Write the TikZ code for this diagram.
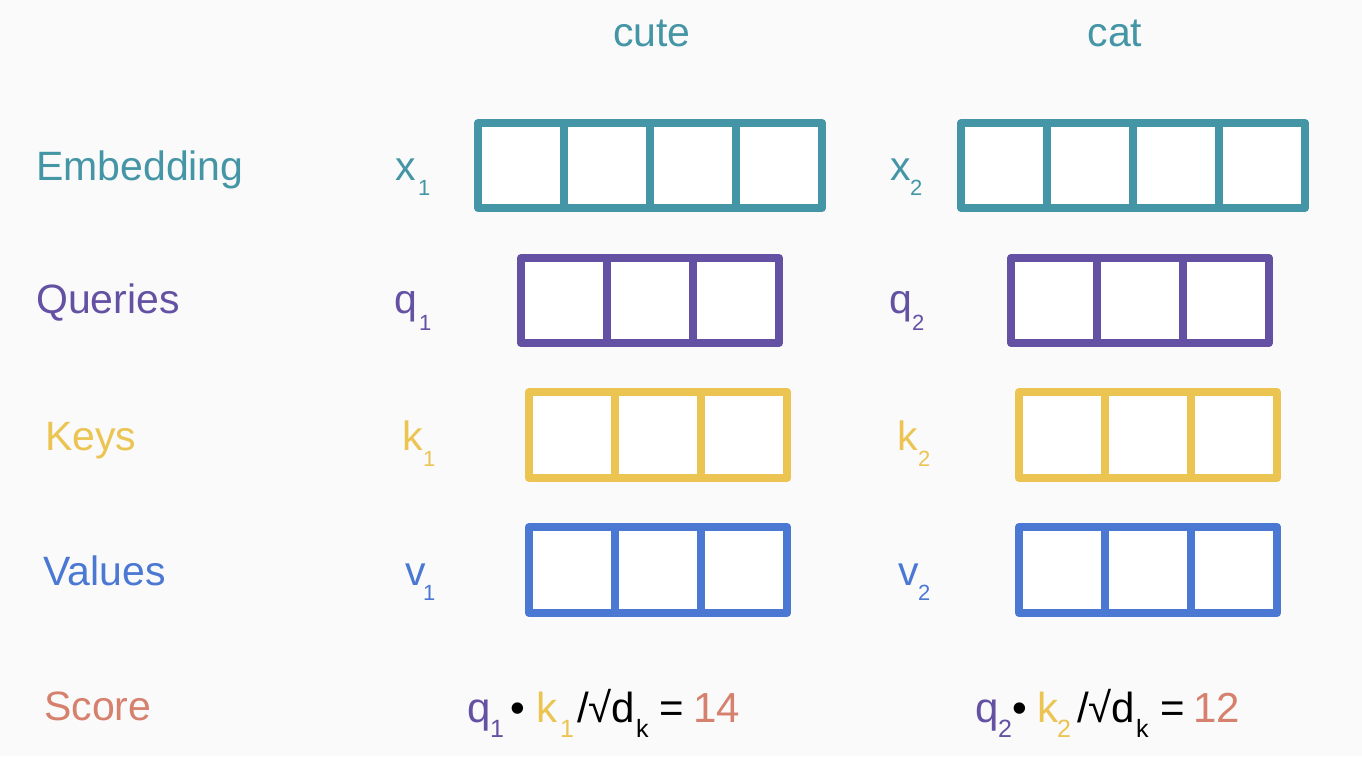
\documentclass[tikz,border=0pt]{standalone}
\usepackage{fontspec}
\setmainfont{Liberation Sans}
\definecolor{cteal}{HTML}{4496A6}
\definecolor{cpurple}{HTML}{6451A3}
\definecolor{cyellow}{HTML}{EBC452}
\definecolor{cblue}{HTML}{4A78D3}
\definecolor{csalmon}{HTML}{D6806E}
\definecolor{cbg}{HTML}{FAFAFA}
\begin{document}
\begin{tikzpicture}[x=1pt,y=-1pt,
  cell/.style={draw, line width=8pt, fill=white, minimum width=86pt, minimum height=85pt, inner sep=0pt, outer sep=0pt, line join=round},
  big/.style={anchor=base west, inner sep=0pt, font=\fontsize{41}{41}\selectfont},
  lsub/.style={anchor=base west, inner sep=0pt, font=\fontsize{22}{22}\selectfont},
  fbig/.style={anchor=base west, inner sep=0pt, font=\fontsize{42}{42}\selectfont},
  fsub/.style={anchor=base west, inner sep=0pt, font=\fontsize{25}{25}\selectfont}]
\fill[cbg] (0,0) rectangle (1362,756);
\useasboundingbox (0,0) rectangle (1362,756);

% column headings
\node[anchor=base, inner sep=0pt, font=\fontsize{41}{41}\selectfont, text=cteal] (cute) at (652,46) {cute};
\node[anchor=base, inner sep=0pt, font=\fontsize{41}{41}\selectfont, text=cteal] (cat) at (1115,46) {cat};

% row labels
\node[big, text=cteal] (lemb) at (36,180) {Embedding};
\node[big, text=cpurple] (lq) at (36,313) {Queries};
\node[big, text=cyellow] (lk) at (45,450) {Keys};
\node[big, text=cblue] (lv) at (43,585) {Values};
\node[big, text=csalmon] (ls) at (44,720) {Score};

% vectors for "cute"
\foreach \i/\x in {1/521,2/607,3/693,4/779}
  \node[cell, draw=cteal] (ea\i) at (\x,165.5) {};
\foreach \i/\x in {1/564,2/650,3/736}
  \node[cell, draw=cpurple] (qa\i) at (\x,300.5) {};
\foreach \i/\x in {1/572,2/658,3/744}
  \node[cell, draw=cyellow, minimum height=86pt] (ka\i) at (\x,435) {};
\foreach \i/\x in {1/572,2/658,3/744}
  \node[cell, draw=cblue, minimum height=86pt] (va\i) at (\x,570) {};

% vectors for "cat"
\foreach \i/\x in {1/1004,2/1090,3/1176,4/1262}
  \node[cell, draw=cteal] (eb\i) at (\x,165.5) {};
\foreach \i/\x in {1/1054,2/1140,3/1226}
  \node[cell, draw=cpurple] (qb\i) at (\x,300.5) {};
\foreach \i/\x in {1/1062,2/1148,3/1234}
  \node[cell, draw=cyellow, minimum height=86pt] (kb\i) at (\x,435) {};
\foreach \i/\x in {1/1062,2/1148,3/1234}
  \node[cell, draw=cblue, minimum height=86pt] (vb\i) at (\x,570) {};

% vector labels, word 1
\node[big, text=cteal] (x1) at (395,180) {x};
\node[lsub, text=cteal] (x1s) at (418,195) {1};
\node[big, text=cpurple] (q1) at (394,313) {q};
\node[lsub, text=cpurple] (q1s) at (419,330) {1};
\node[big, text=cyellow] (k1) at (402,450) {k};
\node[lsub, text=cyellow] (k1s) at (423,466) {1};
\node[big, text=cblue] (v1) at (405,585) {v};
\node[lsub, text=cblue] (v1s) at (423,600) {1};

% vector labels, word 2
\node[big, text=cteal] (x2) at (890,180) {x};
\node[lsub, text=cteal] (x2s) at (910,195) {2};
\node[big, text=cpurple] (q2) at (889,313) {q};
\node[lsub, text=cpurple] (q2s) at (912,330) {2};
\node[big, text=cyellow] (k2) at (897,450) {k};
\node[lsub, text=cyellow] (k2s) at (918,466) {2};
\node[big, text=cblue] (v2) at (898,585) {v};
\node[lsub, text=cblue] (v2s) at (918,600) {2};

% score formula 1
\node[fbig, text=cpurple] (fa1) at (467,722) {q};
\node[fsub, text=cpurple] (fa2) at (490,737) {1};
\node[fbig, text=black] (fa3) at (510,722) {•};
\node[fbig, text=cyellow] (fa4) at (536,722) {k};
\node[fsub, text=cyellow] (fa5) at (560,737) {1};
\node[fbig, text=black] (fa6) at (577,722) {/√d};
\node[fsub, text=black] (fa7) at (636,737) {k};
\node[fbig, text=black] (fa8) at (659,722) {=};
\node[fbig, text=csalmon] (fa9) at (693,722) {14};

% score formula 2
\node[fbig, text=cpurple] (fb1) at (975,722) {q};
\node[fsub, text=cpurple] (fb2) at (998,737) {2};
\node[fbig, text=black] (fb3) at (1012,722) {•};
\node[fbig, text=cyellow] (fb4) at (1037,722) {k};
\node[fsub, text=cyellow] (fb5) at (1057,737) {2};
\node[fbig, text=black] (fb6) at (1077,722) {/√d};
\node[fsub, text=black] (fb7) at (1136,737) {k};
\node[fbig, text=black] (fb8) at (1160,722) {=};
\node[fbig, text=csalmon] (fb9) at (1193,722) {12};
\end{tikzpicture}
\end{document}
